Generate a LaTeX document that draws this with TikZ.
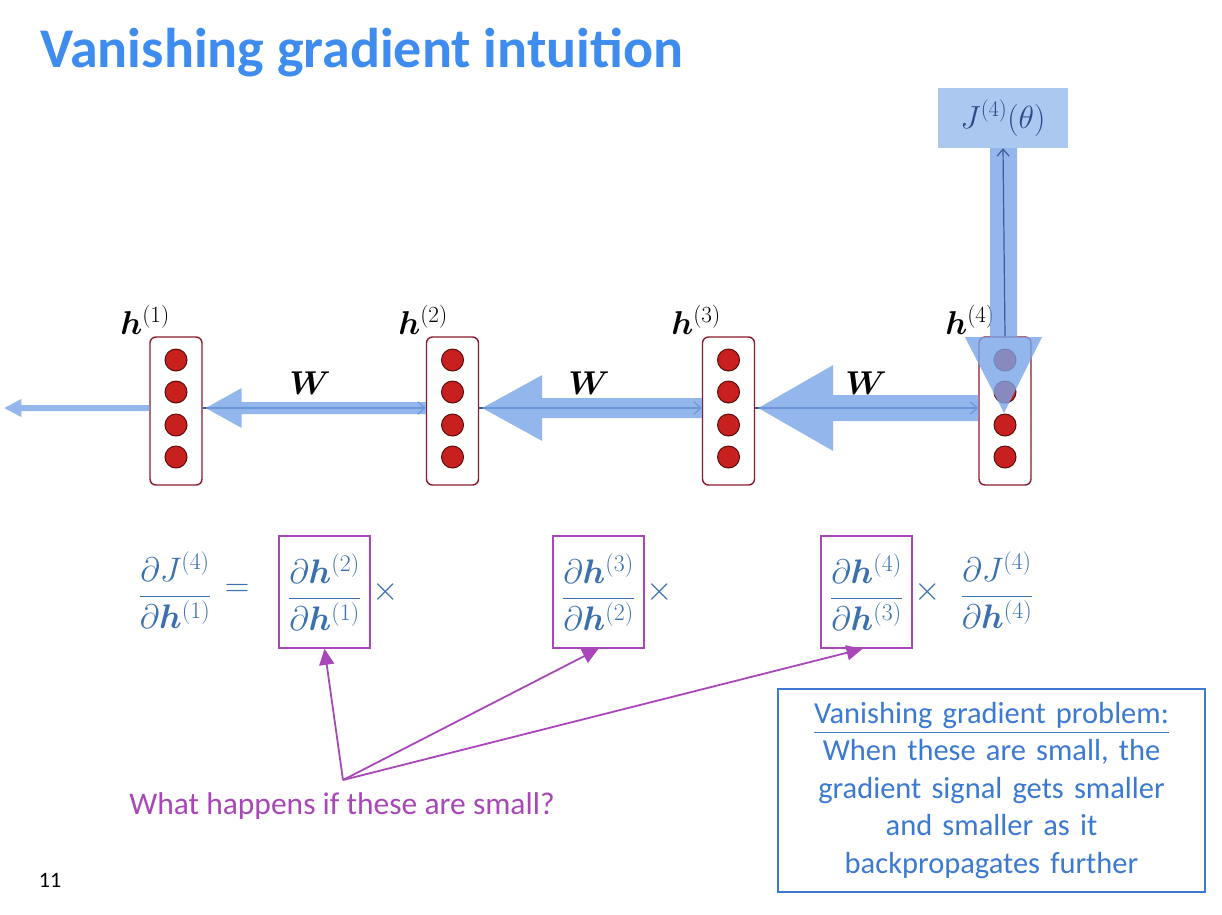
\RequirePackage{fix-cm}
\documentclass[tikz,border=0pt]{standalone}
\usepackage{fontspec}
\setmainfont{Carlito}
\usepackage{amsmath}
\usepackage{bm}
\usetikzlibrary{arrows.meta,calc}
\definecolor{titleblue}{RGB}{62,140,238}
\definecolor{bandblue}{RGB}{120,165,232}
\definecolor{darkarrow}{RGB}{60,90,160}
\definecolor{cellred}{RGB}{200,32,30}
\definecolor{cellborder}{RGB}{90,12,12}
\definecolor{boxred}{RGB}{140,25,45}
\definecolor{eqblue}{RGB}{58,112,175}
\definecolor{jfill}{RGB}{170,200,240}
\definecolor{jtext}{RGB}{45,75,135}
\definecolor{purp}{RGB}{168,72,184}
\definecolor{noteblue}{RGB}{60,122,210}
\tikzset{
  rnnbox/.style={draw=boxred, line width=1.4pt, rounded corners=6pt, fill=white,
    minimum width=52pt, minimum height=148pt, inner sep=0pt},
  cell/.style={circle, fill=cellred, draw=cellborder, line width=1pt, minimum size=22pt, inner sep=0pt},
  hlabel/.style={font=\fontsize{33}{36}\selectfont},
  wlabel/.style={font=\fontsize{33}{36}\selectfont},
  band/.style={fill=bandblue, opacity=0.8},
  fwd/.style={draw=darkarrow, line width=1.2pt, -{Straight Barb[length=7pt,width=12pt]}},
  fracbox/.style={draw=purp, line width=1.6pt, minimum width=91pt, minimum height=112pt, inner sep=0pt, text=eqblue, font=\fontsize{34}{40}\selectfont},
  eqtext/.style={text=eqblue, font=\fontsize{34}{40}\selectfont},
  parr/.style={draw=purp, line width=1.8pt, -{Triangle[length=16pt,width=15pt]}},
}
\begin{document}
\begin{tikzpicture}[x=1pt,y=-1pt]
\useasboundingbox (0,0) rectangle (1222,914);
\fill[white] (0,0) rectangle (1222,914);
% title
\node[anchor=base west, text=titleblue, font=\fontsize{56}{64}\selectfont\bfseries, inner sep=0pt] (title) at (40,67) {Vanishing gradient intuition};
% J box
\node[fill=jfill, minimum width=130pt, minimum height=60pt, inner sep=0pt, text=jtext, font=\fontsize{32}{36}\selectfont] (J) at (1003,118) {$J^{(4)}(\theta)$};
% RNN boxes
\foreach \i/\x in {1/176,2/452.5,3/728.5,4/1005}{
  \node[rnnbox] (h\i) at (\x,411) {};
  \foreach \k/\y in {a/360,b/392,c/425,d/457}{
    \node[cell] (c\i\k) at (\x,\y) {};
  }
}
\node[hlabel] (l1) at (145,320) {$\bm{h}^{(1)}$};
\node[hlabel] (l2) at (423,320) {$\bm{h}^{(2)}$};
\node[hlabel] (l3) at (696,320) {$\bm{h}^{(3)}$};
\node[hlabel] (l4) at (970,320) {$\bm{h}^{(4)}$};
\node[wlabel] (w1) at (310,383) {$\bm{W}$};
\node[wlabel] (w2) at (589,383) {$\bm{W}$};
\node[wlabel] (w3) at (866,383) {$\bm{W}$};
% forward thin arrows
\draw[fwd] (h1.east |- 0,408) -- (h2.west |- 0,408);
\draw[fwd] (h2.east |- 0,408) -- (h3.west |- 0,408);
\draw[fwd] (h3.east |- 0,408) -- (h4.west |- 0,408);
% backward bands
\coordinate (t0) at (h1.west |- 0,408);
\fill[band] (t0) ++(0,-3) -- ++(-128,0) -- ++(0,-6) -- ++(-17,9) -- ++(17,9) -- ++(0,-6) -- ++(128,0) -- cycle;
\coordinate (t1) at ($(h1.east |- 0,408)+(3,0)$);
\fill[band] (t1) -- ++(36,-20) -- ++(0,14) -- ($(h2.west |- 0,402)$) -- ($(h2.west |- 0,414)$) -- ($(t1)+(36,6)$) -- ++(0,14) -- cycle;
\coordinate (t2) at ($(h2.east |- 0,408)+(3,0)$);
\fill[band] (t2) -- ++(60,-33) -- ++(0,23) -- ($(h3.west |- 0,398)$) -- ($(h3.west |- 0,418)$) -- ($(t2)+(60,10)$) -- ++(0,23) -- cycle;
\coordinate (t3) at ($(h3.east |- 0,408)+(3,0)$);
\fill[band] (t3) -- ++(75,-43) -- ++(0,30) -- ($(h4.west |- 0,395)$) -- ($(h4.west |- 0,421)$) -- ($(t3)+(75,13)$) -- ++(0,30) -- cycle;
% vertical band from J to h4
\coordinate (vt) at (1004,413);
\fill[band] ($(J.south)+(-13,0)$) -- ++(0,189) -- ++(-25,0) -- (vt) -- ($(J.south)+(39,189)$) -- ++(-25,0) -- ($(J.south)+(14,0)$) -- cycle;
\draw[fwd] (h4.north) -- (J.south);
% equation
\node[eqtext] (lhs) at (175,590) {$\dfrac{\partial J^{(4)}}{\partial \bm{h}^{(1)}}$};
\node[eqtext] (eq) at (237,590) {$=$};
\node[fracbox] (f1) at (324.5,592) {$\dfrac{\partial \bm{h}^{(2)}}{\partial \bm{h}^{(1)}}$};
\node[eqtext, anchor=west, inner sep=1pt] (x1) at (f1.east) {$\times$};
\node[fracbox] (f2) at (598.5,592) {$\dfrac{\partial \bm{h}^{(3)}}{\partial \bm{h}^{(2)}}$};
\node[eqtext, anchor=west, inner sep=1pt] (x2) at (f2.east) {$\times$};
\node[fracbox] (f3) at (866.5,592) {$\dfrac{\partial \bm{h}^{(4)}}{\partial \bm{h}^{(3)}}$};
\node[eqtext, anchor=west, inner sep=1pt] (x3) at (f3.east) {$\times$};
\node[eqtext] (rhs) at (997,590) {$\dfrac{\partial J^{(4)}}{\partial \bm{h}^{(4)}}$};
% question
\coordinate (q) at (343,780);
\draw[parr] (q) -- (f1.south);
\draw[parr] (q) -- (f2.south);
\draw[parr] (q) -- ($(f3.south)+(-4,0)$);
\node[text=purp, font=\fontsize{31.5}{36}\selectfont] (qt) at (342,806) {What happens if these are small?};
% note box
\node[draw=noteblue, line width=1.5pt, minimum width=427pt, minimum height=203pt, text width=415pt, align=center, text=noteblue, font=\fontsize{30.5}{37.5}\selectfont, inner sep=0pt] (note) at (991.5,790.5)
 {\underline{Vanishing gradient problem:}\\When these are small, the\\gradient signal gets smaller\\and smaller as it\\backpropagates further};
% page number
\node[font=\fontsize{22}{24}\selectfont] (pg) at (50,880) {11};
\end{tikzpicture}
\end{document}
